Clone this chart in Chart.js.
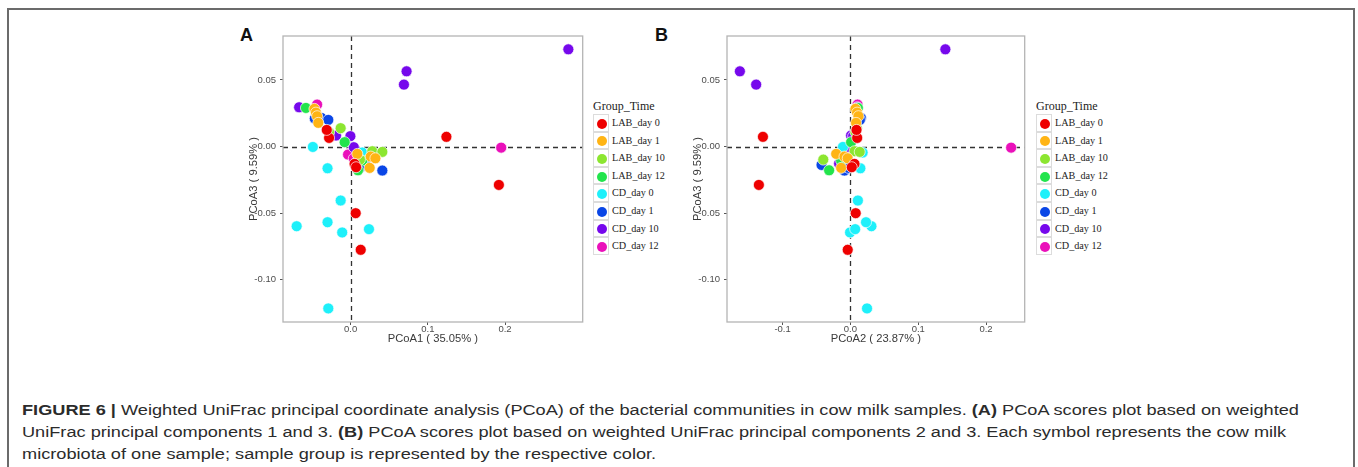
<!DOCTYPE html>
<html>
<head>
<meta charset="utf-8">
<script src="https://cdn.jsdelivr.net/npm/chart.js@4.4.1/dist/chart.umd.min.js"></script>
<style>
  body { margin: 0; background: #fff; width: 1358px; height: 467px; overflow: hidden; position: relative; }
  .frame { position: absolute; left: 7px; top: 8px; width: 1344px; height: 470px; border: 2px solid #6b6b6b; }
  canvas { position: absolute; }
  .letter { position: absolute; font: bold 18px "Liberation Sans", Arial, sans-serif; color: #111; }
  .legend { position: absolute; font-family: "Liberation Serif", "Times New Roman", serif; color: #222; }
  .legend .ttl { font-size: 12px; height: 16px; line-height: 16px; }
  .legend .row { position: relative; height: 17.6px; }
  .legend .key { position: absolute; left: 0; top: 0; width: 16px; height: 17.6px; box-sizing: border-box; border: 1px solid #dcdcdc; background: #fff; }
  .legend .dot { position: absolute; left: 3px; top: 3.8px; width: 10px; height: 10px; border-radius: 50%; }
  .legend .lab { position: absolute; left: 19px; top: 0; font-size: 10.2px; line-height: 17.6px; white-space: nowrap; }
  .caption { position: absolute; left: 22px; top: 399px; font-family: "Liberation Sans", Arial, sans-serif; font-size: 15.5px; line-height: 22px; color: #2b2b2b; white-space: nowrap; transform: scaleX(1.172); transform-origin: 0 0; }
</style>
</head>
<body>
<div class="frame"></div>
<div class="letter" style="left:240px; top:25px;">A</div>
<div class="letter" style="left:655px; top:25px;">B</div>
<canvas id="pcoaA" width="356" height="330" style="left:233px; top:26px; width:356px; height:330px;"></canvas>
<canvas id="pcoaB" width="354" height="330" style="left:677px; top:26px; width:354px; height:330px;"></canvas>
<div class="legend" id="legA" style="left:593px; top:98px;"></div>
<div class="legend" id="legB" style="left:1036px; top:98px;"></div>
<div class="caption"><b>FIGURE 6 |</b> Weighted UniFrac principal coordinate analysis (PCoA) of the bacterial communities in cow milk samples. <b>(A)</b> PCoA scores plot based on weighted<br>UniFrac principal components 1 and 3. <b>(B)</b> PCoA scores plot based on weighted UniFrac principal components 2 and 3. Each symbol represents the cow milk<br>microbiota of one sample; sample group is represented by the respective color.</div>
<script>
// each sample: [PCoA1, PCoA2, PCoA3]
const LAB_day0 = [
  [0.124, -0.129, 0.0073], [0.192, -0.135, -0.0288], [0.0065, 0.0078, -0.050], [0.013, -0.004, -0.0775],
  [-0.028, 0.010, 0.0065], [-0.031, 0.009, 0.0125], [0.005, 0.006, -0.013], [0.007, 0.002, -0.0155]
];
const LAB_day1 = [
  [-0.047, 0.0074, 0.0283], [-0.045, 0.0098, 0.0255], [-0.0435, 0.0118, 0.0228], [-0.042, 0.0083, 0.0178],
  [0.0086, -0.021, -0.0055], [0.026, -0.0088, -0.0075], [0.032, -0.004, -0.0088], [0.0246, -0.0137, -0.016]
];
const LAB_day10 = [
  [-0.028, 0.0075, 0.0108], [-0.013, 0.0095, 0.0138], [0.028, 0.006, -0.0035], [0.041, 0.0137, -0.004],
  [0.012, -0.040, -0.0098]
];
const LAB_day12 = [
  [-0.058, 0.011, 0.029], [-0.0078, 0.001, 0.0033], [0.015, -0.0137, -0.0105], [0.0095, -0.0314, -0.0178]
];
const CD_day0 = [
  [-0.029, 0.0245, -0.1215], [-0.070, 0.031, -0.0598], [-0.030, 0.023, -0.0568], [-0.011, -0.0005, -0.0645],
  [0.0237, 0.007, -0.062], [-0.013, 0.011, -0.0405], [-0.030, 0.0147, -0.0163], [-0.049, -0.011, -0.0003],
  [0.015, 0.018, -0.0045]
];
const CD_day1 = [
  [-0.0465, 0.0135, 0.021], [-0.038, 0.0155, 0.0215], [-0.029, 0.014, 0.020], [0.041, -0.0088, -0.018],
  [0.020, -0.0426, -0.0138], [0.012, -0.003, -0.016]
];
const CD_day10 = [
  [0.282, 0.140, 0.073], [0.0724, -0.163, 0.0565], [0.069, -0.139, 0.0465], [-0.0668, 0.010, 0.0295],
  [-0.019, 0.001, 0.0083], [-0.0004, 0.004, 0.0078], [0.004, -0.0054, -0.0005], [0.006, -0.0167, -0.0128]
];
const CD_day12 = [
  [-0.0435, 0.0105, 0.0315], [0.195, 0.237, -0.0008], [-0.0034, -0.0045, -0.006], [0.004, -0.009, -0.009]
];

const groupNames = ['LAB_day 0', 'LAB_day 1', 'LAB_day 10', 'LAB_day 12', 'CD_day 0', 'CD_day 1', 'CD_day 10', 'CD_day 12'];
const groupData = [LAB_day0, LAB_day1, LAB_day10, LAB_day12, CD_day0, CD_day1, CD_day10, CD_day12];
const groupColors = ['#ee0000', '#ffb414', '#8ce630', '#22e44c', '#1ef0fa', '#0a46e6', '#7608ec', '#ea10ba'];

const xTicksA = [0.0, 0.1, 0.2];
const xTicksB = [-0.1, 0.0, 0.1, 0.2];
const yTicks = [-0.10, -0.05, 0.00, 0.05];

// dashed zero lines + panel border
const panelDecor = {
  id: 'panelDecor',
  beforeDatasetsDraw(chart) {
    const {ctx, chartArea: a, scales: {x, y}} = chart;
    ctx.save();
    ctx.strokeStyle = '#333';
    ctx.lineWidth = 1.3;
    ctx.setLineDash([5, 4]);
    const x0 = Math.round(x.getPixelForValue(0)) + 0.5;
    const y0 = Math.round(y.getPixelForValue(0)) + 0.5;
    ctx.beginPath();
    ctx.moveTo(x0, a.top); ctx.lineTo(x0, a.bottom);
    ctx.moveTo(a.left, y0); ctx.lineTo(a.right, y0);
    ctx.stroke();
    ctx.restore();
  },
  afterDraw(chart) {
    const {ctx, chartArea: a} = chart;
    ctx.save();
    ctx.strokeStyle = '#b4b4b4';
    ctx.lineWidth = 1.3;
    ctx.strokeRect(a.left, a.top, a.right - a.left, a.bottom - a.top);
    ctx.restore();
  }
};

function makeChart(id, xi, xMin, xMax, xTicks, xTitle) {
  const datasets = groupData.map((g, i) => ({
    label: groupNames[i],
    data: g.map(p => ({x: p[xi], y: p[2]})),
    backgroundColor: groupColors[i],
    borderColor: 'rgba(255,255,255,0.85)',
    borderWidth: 0.8,
    pointRadius: 5.5,
    pointHoverRadius: 5.5
  }));
  const tickFont = {family: '"Liberation Sans", Arial, sans-serif', size: 9.5};
  const titleFont = {family: '"Liberation Sans", Arial, sans-serif', size: 11.2};
  return new Chart(document.getElementById(id).getContext('2d'), {
    type: 'scatter',
    data: {datasets},
    options: {
      responsive: false,
      animation: false,
      layout: {padding: {top: 10, right: 5, bottom: 0, left: 0}},
      plugins: {legend: {display: false}, tooltip: {enabled: false}},
      scales: {
        x: {
          min: xMin, max: xMax,
          afterFit(s) { s.height = 34; },
          afterBuildTicks(s) { s.ticks = xTicks.map(v => ({value: v})); },
          ticks: {font: tickFont, color: '#4d4d4d', padding: -1, maxRotation: 0,
                  callback: v => v.toFixed(1)},
          grid: {drawOnChartArea: false, drawTicks: true, tickLength: 3, tickColor: '#555'},
          border: {display: false},
          title: {display: true, text: xTitle, font: titleFont, color: '#3a3a3a', padding: {top: 0, bottom: 10}}
        },
        y: {
          min: -0.1317, max: 0.083,
          afterFit(s) { s.width = 50; },
          afterBuildTicks(s) { s.ticks = yTicks.map(v => ({value: v})); },
          ticks: {font: tickFont, color: '#4d4d4d', padding: 4,
                  callback: v => v.toFixed(2)},
          grid: {drawOnChartArea: false, drawTicks: true, tickLength: 3, tickColor: '#555'},
          border: {display: false},
          title: {display: true, text: 'PCoA3 ( 9.59% )', font: titleFont, color: '#3a3a3a', padding: {top: 14, bottom: 0}}
        }
      }
    },
    plugins: [panelDecor]
  });
}

makeChart('pcoaA', 0, -0.0877, 0.3006, xTicksA, 'PCoA1 ( 35.05% )');
makeChart('pcoaB', 1, -0.182, 0.257, xTicksB, 'PCoA2 ( 23.87% )');

function buildLegend(el) {
  const t = document.createElement('div');
  t.className = 'ttl';
  t.textContent = 'Group_Time';
  el.appendChild(t);
  groupNames.forEach((n, i) => {
    const r = document.createElement('div');
    r.className = 'row';
    r.innerHTML = '<div class="key"><div class="dot" style="background:' + groupColors[i] + '"></div></div><div class="lab">' + n + '</div>';
    el.appendChild(r);
  });
}
buildLegend(document.getElementById('legA'));
buildLegend(document.getElementById('legB'));
</script>
</body>
</html>
